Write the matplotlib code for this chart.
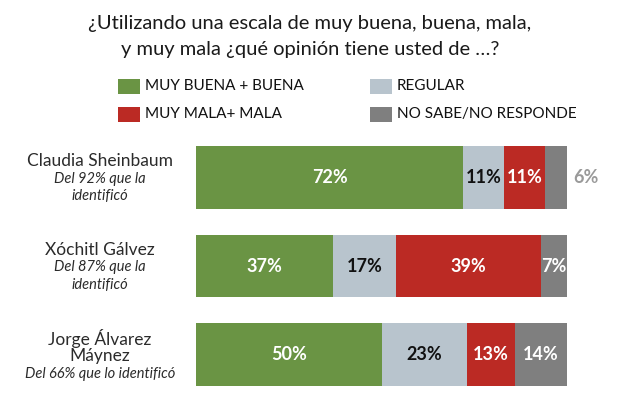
import matplotlib
matplotlib.use("Agg")
import matplotlib.pyplot as plt
from matplotlib.patches import Rectangle
from matplotlib.transforms import offset_copy

# ---- data ----
candidates = ["Claudia Sheinbaum", "Xóchitl Gálvez", "Jorge Álvarez\nMáynez"]
subtitles = ["Del 92% que la\nidentificó", "Del 87% que la\nidentificó",
             "Del 66% que lo identificó"]
categories = ["MUY BUENA + BUENA", "REGULAR", "MUY MALA+ MALA", "NO SABE/NO RESPONDE"]
buena = [72, 37, 50]
regular = [11, 17, 23]
mala = [11, 39, 13]
nosabe = [6, 7, 14]

# ---- style ----
W, H, DPI = 620, 409, 100
GREEN = "#6A9444"
LIGHT = "#B8C4CD"
RED = "#BB2A24"
GREY = "#7F7F7F"
TEXT = "#2B2B2B"
colors = [GREEN, LIGHT, RED, GREY]
label_colors = ["white", "#111111", "white", "white"]
plt.rcParams["font.family"] = ["Lato", "DejaVu Sans"]

fig = plt.figure(figsize=(W / DPI, H / DPI), dpi=DPI)
fig.patch.set_facecolor("white")


def px(x, y):
    return x / W, 1 - y / H


# title
fig.text(*px(310, 24), "¿Utilizando una escala de muy buena, buena, mala,",
         ha="center", va="center", fontsize=14.5, color="#1a1a1a")
fig.text(*px(310, 50), "y muy mala ¿qué opinión tiene usted de …?",
         ha="center", va="center", fontsize=14.5, color="#1a1a1a")

# legend
legend_pos = [(118, 86), (370, 86), (118, 114), (370, 114)]
for (lx, ly), cat, col in zip(legend_pos, categories, colors):
    x0, y0 = px(lx, ly + 7.5)
    fig.patches.append(Rectangle((x0, y0), 22 / W, 15 / H, transform=fig.transFigure,
                                 facecolor=col, edgecolor="none"))
    fig.text(*px(lx + 27, ly), cat, ha="left", va="center", fontsize=11,
             color="#111111")

# bars
ax = fig.add_axes([196 / W, 10 / H, 371 / W, 266 / H])
ax.set_xlim(0, 100)
ax.set_ylim(2.5, -0.5)
ax.axis("off")

series = [buena, regular, mala, nosabe]
ypos = list(range(len(candidates)))
left = [0] * len(candidates)
for vals, col, lcol in zip(series, colors, label_colors):
    ax.barh(ypos, vals, left=left, height=0.71, color=col, edgecolor="none")
    for i, v in enumerate(vals):
        if v < 7:
            ax.text(left[i] + v + 5, i, f"{v}%", ha="center", va="center",
                    fontsize=13, fontweight="bold", color="#9A9A9A")
        else:
            ax.text(left[i] + v / 2, i, f"{v}%", ha="center", va="center",
                    fontsize=13, fontweight="bold", color=lcol)
    left = [a + b for a, b in zip(left, vals)]

# candidate labels: one text per line, stacked around the bar centre
tr = ax.get_yaxis_transform()
xlab = (100 - 196) / 371
step_px = 17.5
for i, (name, sub) in enumerate(zip(candidates, subtitles)):
    lines = [(s, dict(fontsize=12.5, style="normal")) for s in name.split("\n")]
    lines += [(s, dict(fontsize=10.5, style="italic")) for s in sub.split("\n")]
    n = len(lines)
    for k, (s, kw) in enumerate(lines):
        dy_px = (k - (n - 1) / 2) * step_px + 1.5
        t = offset_copy(tr, fig=fig, y=-dy_px * 72 / DPI, units="points")
        ax.text(xlab, i, s, transform=t, ha="center", va="center", color=TEXT,
                clip_on=False, **kw)

fig.savefig("out.png", dpi=DPI, facecolor="white")
